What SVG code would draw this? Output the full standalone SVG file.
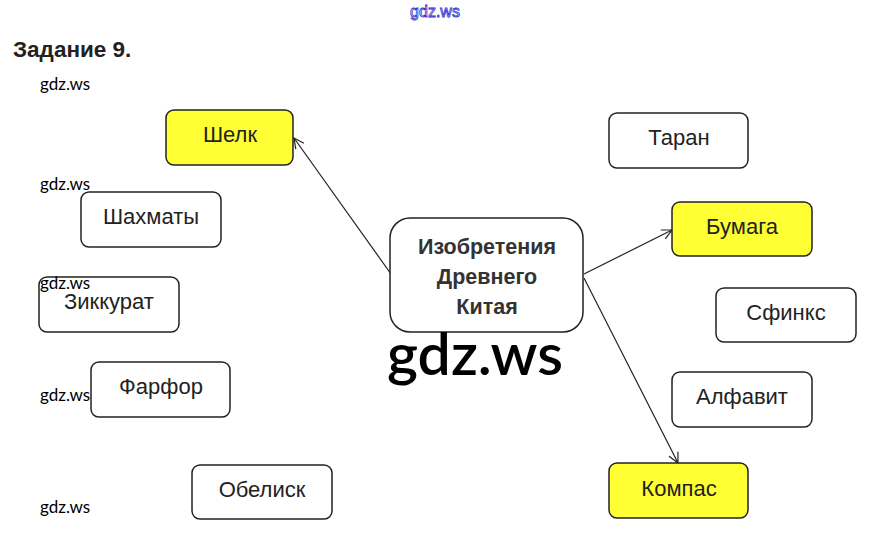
<svg xmlns="http://www.w3.org/2000/svg" width="869" height="546" viewBox="0 0 869 546">
<defs>
<style>
.box{fill:#fff;stroke:#222;stroke-width:1.5}
.hl{fill:#ffff33}
.lbl{font-family:"Liberation Sans",Arial,sans-serif;font-size:22px;fill:#222;text-anchor:middle}
.ctr{font-family:"Liberation Sans",Arial,sans-serif;font-size:21.5px;font-weight:bold;fill:#333;text-anchor:middle}
.wm{font-family:Lato,"Open Sans",sans-serif;font-size:17px;fill:#000}
.conn{stroke:#222;stroke-width:1.2;fill:none;marker-end:url(#arr)}
</style>
<marker id="arr" viewBox="0 0 12 12" refX="11" refY="6" markerWidth="12" markerHeight="12" markerUnits="userSpaceOnUse" orient="auto">
<path d="M1,1 L11,6 L1,11" fill="none" stroke="#222" stroke-width="1.2"/>
</marker>
</defs>
<rect width="869" height="546" fill="#fff"/>
<text x="435" y="17" text-anchor="middle" font-family="'Liberation Sans',Arial,sans-serif" font-size="16" fill="#fff" stroke="#2a2ad0" stroke-width="0.8">gdz.ws</text>
<text x="13" y="57" font-family="'Liberation Sans',Arial,sans-serif" font-size="22.5" font-weight="bold" fill="#222">Задание 9.</text>
<g id="connectors">
<line class="conn" x1="391" y1="274" x2="294" y2="138"/>
<line class="conn" x1="584" y1="274" x2="672" y2="230"/>
<line class="conn" x1="584" y1="278" x2="678" y2="463"/>
</g>
<g id="n-shelk"><rect class="box hl" x="166" y="110" width="127" height="55" rx="8"/><text class="lbl" x="230" y="142">Шелк</text></g>
<g id="n-shakhmaty"><rect class="box" x="81" y="192" width="140" height="55" rx="8"/><text class="lbl" x="151" y="224">Шахматы</text></g>
<g id="n-zikkurat"><rect class="box" x="39" y="277" width="140" height="55" rx="8"/><text class="lbl" x="109" y="309">Зиккурат</text></g>
<g id="n-farfor"><rect class="box" x="91" y="362" width="139" height="55" rx="8"/><text class="lbl" x="161" y="394">Фарфор</text></g>
<g id="n-obelisk"><rect class="box" x="192" y="465" width="140" height="54" rx="8"/><text class="lbl" x="262" y="497">Обелиск</text></g>
<g id="n-center"><rect class="box" x="390" y="218" width="193" height="114" rx="20"/>
<text class="ctr" x="487" y="254">Изобретения</text>
<text class="ctr" x="487" y="284">Древнего</text>
<text class="ctr" x="487" y="314">Китая</text></g>
<g id="n-taran"><rect class="box" x="609" y="113" width="139" height="55" rx="8"/><text class="lbl" x="679" y="145">Таран</text></g>
<g id="n-bumaga"><rect class="box hl" x="672" y="202" width="140" height="54" rx="8"/><text class="lbl" x="742" y="234">Бумага</text></g>
<g id="n-sfinks"><rect class="box" x="716" y="288" width="140" height="54" rx="8"/><text class="lbl" x="786" y="320">Сфинкс</text></g>
<g id="n-alfavit"><rect class="box" x="672" y="372" width="140" height="55" rx="8"/><text class="lbl" x="742" y="404">Алфавит</text></g>
<g id="n-kompas"><rect class="box hl" x="609" y="463" width="139" height="55" rx="8"/><text class="lbl" x="679" y="496">Компас</text></g>
<text class="wm" x="40" y="90">gdz.ws</text>
<text class="wm" x="40" y="190">gdz.ws</text>
<text class="wm" x="40" y="289">gdz.ws</text>
<text class="wm" x="40" y="401">gdz.ws</text>
<text class="wm" x="40" y="513">gdz.ws</text>
<text x="387" y="375" font-family="Lato,'Open Sans',sans-serif" font-size="58" font-weight="600" fill="#000" textLength="176" lengthAdjust="spacingAndGlyphs">gdz.ws</text>
</svg>
